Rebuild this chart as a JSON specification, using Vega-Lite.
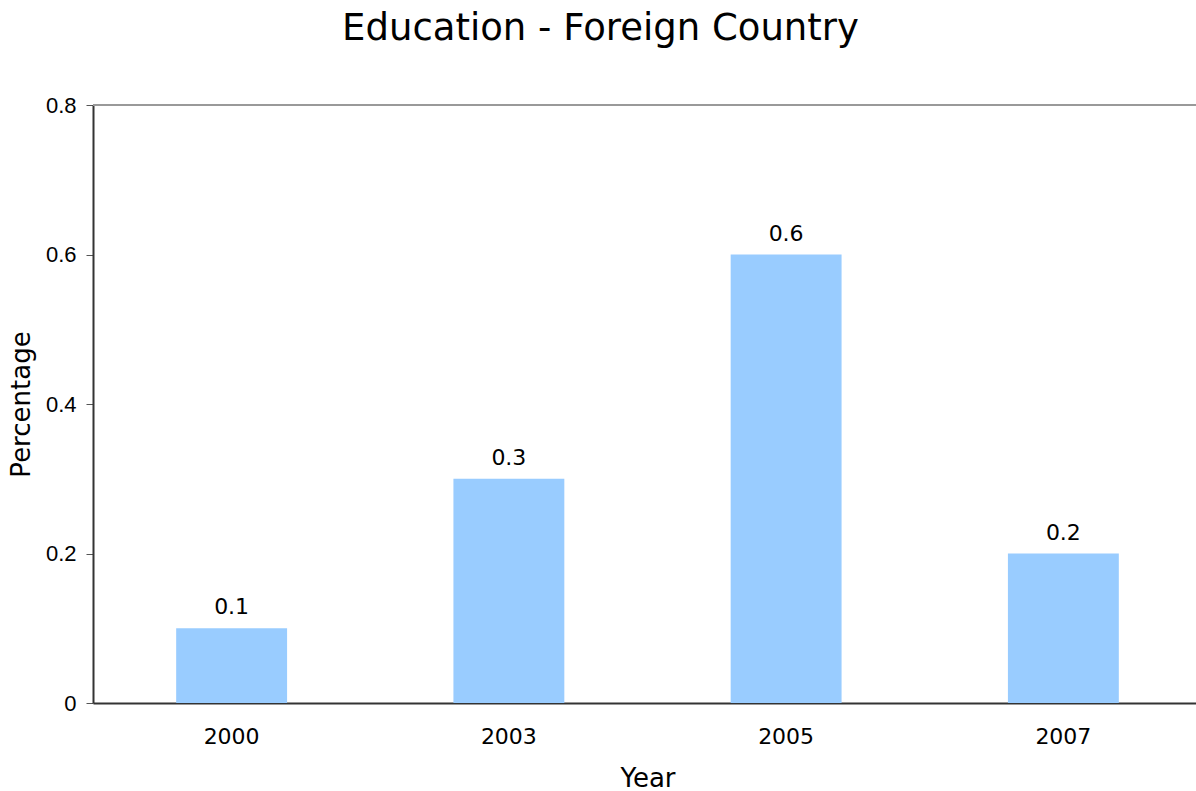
{
  "$schema": "https://vega.github.io/schema/vega-lite/v6.json",
  "autosize": {"type": "none"},
  "width": 1109,
  "height": 598,
  "padding": {"left": 93, "top": 105, "right": 0, "bottom": 88},
  "background": "white",
  "config": {"view": {"stroke": null}},
  "title": {
    "text": "Education - Foreign Country",
    "font": "DejaVu Sans",
    "fontSize": 37,
    "fontWeight": "normal",
    "color": "#000000",
    "anchor": "middle",
    "frame": "group",
    "dx": -47,
    "offset": 46
  },
  "data": {
    "values": [
      {"Year": "2000", "Percentage": 0.1},
      {"Year": "2003", "Percentage": 0.3},
      {"Year": "2005", "Percentage": 0.6},
      {"Year": "2007", "Percentage": 0.2}
    ]
  },
  "encoding": {
    "x": {
      "field": "Year",
      "type": "nominal",
      "sort": null,
      "scale": {"paddingInner": 0.6, "paddingOuter": 0.3},
      "axis": {
        "labelAngle": 0,
        "labelFont": "DejaVu Sans",
        "labelFontSize": 22,
        "labelColor": "#000000",
        "labelPadding": 23,
        "ticks": false,
        "domainColor": "#333333",
        "domainWidth": 2,
        "title": "Year",
        "titleFont": "DejaVu Sans",
        "titleFontSize": 26,
        "titleFontWeight": "normal",
        "titleColor": "#000000",
        "titlePadding": 18
      }
    },
    "y": {
      "field": "Percentage",
      "type": "quantitative",
      "scale": {"domain": [0, 0.8]},
      "axis": {
        "values": [0, 0.2, 0.4, 0.6, 0.8],
        "format": ".1~f",
        "grid": false,
        "labelFont": "Liberation Sans",
        "labelFontSize": 22,
        "labelColor": "#000000",
        "labelPadding": 10,
        "tickSize": 7,
        "tickColor": "#555555",
        "domainColor": "#333333",
        "domainWidth": 2,
        "title": "Percentage",
        "titleFont": "DejaVu Sans",
        "titleFontSize": 26,
        "titleFontWeight": "normal",
        "titleColor": "#000000",
        "titlePadding": 11
      }
    }
  },
  "layer": [
    {
      "mark": {"type": "rule", "color": "#999999", "strokeWidth": 1.5},
      "encoding": {"y": {"datum": 0.8}, "x": {}}
    },
    {
      "mark": {"type": "bar", "color": "#99CCFF"}
    },
    {
      "mark": {
        "type": "text",
        "font": "DejaVu Sans",
        "fontSize": 22,
        "color": "#000000",
        "baseline": "bottom",
        "dy": -9
      },
      "encoding": {"text": {"field": "Percentage", "type": "quantitative", "format": ".1f"}}
    }
  ]
}
